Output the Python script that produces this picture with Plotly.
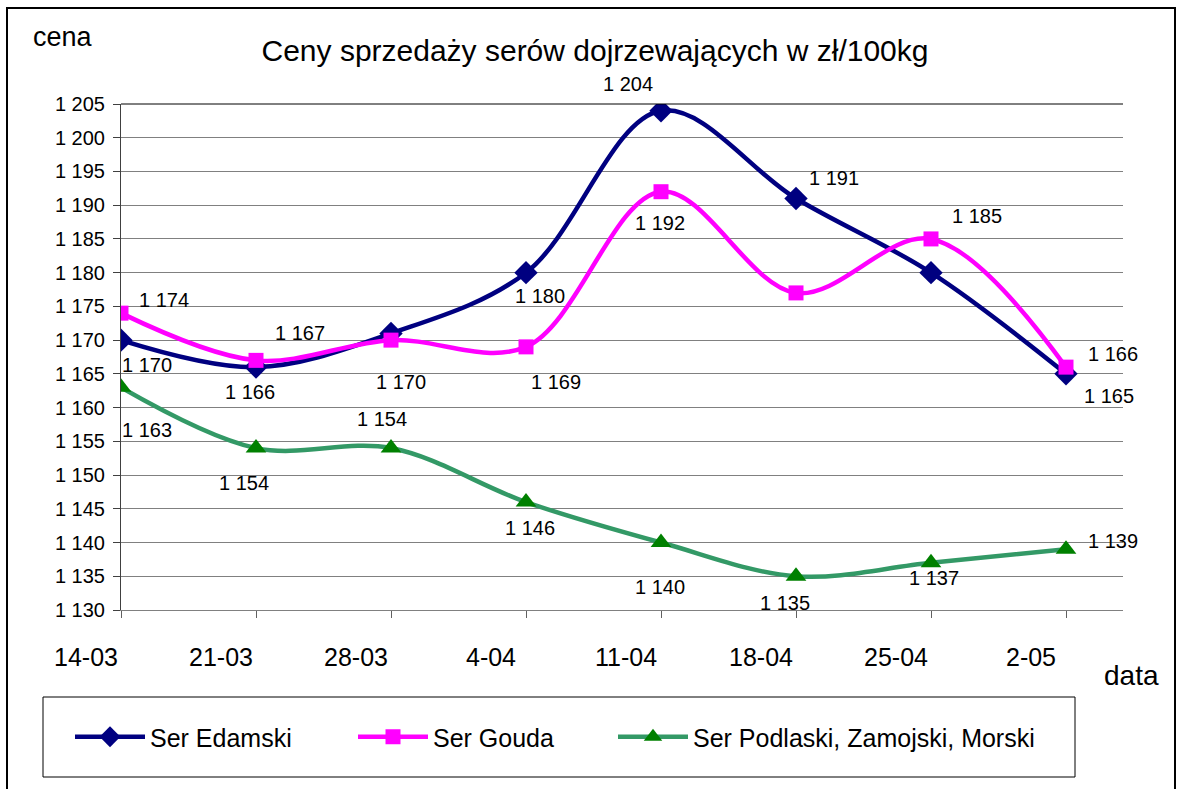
import plotly.graph_objects as go

# ---------------- data ----------------
dates = ["14-03", "21-03", "28-03", "4-04", "11-04", "18-04", "25-04", "2-05"]
edamski = [1170, 1166, 1171, 1180, 1204, 1191, 1180, 1165]
gouda = [1174, 1167, 1170, 1169, 1192, 1177, 1185, 1166]
podlaski = [1163, 1154, 1154, 1146, 1140, 1135, 1137, 1139]
y_ticks = [1130, 1135, 1140, 1145, 1150, 1155, 1160, 1165, 1170, 1175, 1180, 1185, 1190, 1195, 1200, 1205]

names = ["Ser Edamski", "Ser Gouda", "Ser Podlaski, Zamojski, Morski"]
title_text = "Ceny sprzedaży serów dojrzewających w zł/100kg"

# ---------------- style / layout ----------------
W, H = 1179, 789
PL, PR, PT, PB = 121, 1123, 104, 610  # plot area in pixels
FONT = "Liberation Sans, Arial, sans-serif"

def px(xp):
    return (xp - PL) / (PR - PL)

def py(yp):
    return (PB - yp) / (PB - PT)

def fmt(v):
    return f"{v:,}".replace(",", " ")

# label pixel offsets (dx right, dy down) per point, None = no label
lab_off = {
    0: [(26, 25), (-6, 25), None, (14, 23), (-33, -27), (38, -20), None, (43, 22)],
    1: [(43, -13), (44, -27), (10, 42), (30, 35), (-1, 31), None, (46, -23), (47, -13)],
    2: [(26, 43), (-12, 35), (-9, -29), (4, 26), (-1, 44), (-11, 27), (3, 15), (47, -8)],
}

series = [edamski, gouda, podlaski]
line_colors = ["#000080", "#FF00FF", "#339966"]
marker_colors = ["#000080", "#FF00FF", "#008000"]
symbols = ["diamond", "square", "triangle-up"]
msizes = [18, 15, 18]
legend_ids = ["legend", "legend2", "legend3"]
legend_x_px = [70, 353, 613]

fig = go.Figure()
for i, vals in enumerate(series):
    fig.add_trace(go.Scatter(
        x=dates, y=vals, name=names[i], mode="lines+markers",
        line=dict(color=line_colors[i], width=4.5, shape="spline", smoothing=1.0),
        marker=dict(symbol=symbols[i], size=msizes[i], color=marker_colors[i]),
        legend=legend_ids[i], hoverinfo="x+y+name",
    ))

annotations = []
for i, vals in enumerate(series):
    for j, v in enumerate(vals):
        off = lab_off[i][j]
        if off is None:
            continue
        annotations.append(dict(
            x=dates[j], y=v, xref="x", yref="y", text=fmt(v), showarrow=False,
            xshift=off[0], yshift=-off[1], font=dict(family=FONT, size=20, color="#000000"),
        ))

annotations.append(dict(x=px(63), y=py(37), xref="paper", yref="paper", text="cena",
                        showarrow=False, font=dict(family=FONT, size=27, color="#000000"),
                        xanchor="center", yanchor="middle"))
annotations.append(dict(x=px(1131), y=py(675), xref="paper", yref="paper", text="data",
                        showarrow=False, font=dict(family=FONT, size=28, color="#000000"),
                        xanchor="center", yanchor="middle"))

shapes = [
    # outer chart border
    dict(type="rect", xref="paper", yref="paper", x0=px(7), x1=px(1175), y0=py(805), y1=py(8),
         line=dict(color="#000000", width=2), layer="below"),
    # legend box
    dict(type="rect", xref="paper", yref="paper", x0=px(43), x1=px(1075), y0=py(777), y1=py(697),
         line=dict(color="#000000", width=1), layer="below"),
    # top border line of plot area
    dict(type="line", xref="paper", yref="paper", x0=0, x1=1, y0=1, y1=1,
         line=dict(color="#000000", width=1)),
]

legend_common = dict(orientation="h", yanchor="middle", xanchor="left", y=py(737),
                     font=dict(family=FONT, size=25, color="#000000"),
                     bgcolor="rgba(0,0,0,0)", borderwidth=0, itemwidth=70)

fig.update_layout(
    width=W, height=H,
    margin=dict(l=PL, r=W - PR, t=PT, b=H - PB, pad=0),
    paper_bgcolor="#FFFFFF", plot_bgcolor="#FFFFFF",
    font=dict(family=FONT, color="#000000"),
    title=dict(text=title_text, x=595 / W, y=1 - 50 / H, xref="container", yref="container",
               xanchor="center", yanchor="middle", font=dict(family=FONT, size=30, color="#000000")),
    xaxis=dict(type="category", categoryorder="array", categoryarray=dates,
               range=[0, (PR - PL) / 135.0], showgrid=False, zeroline=False,
               showline=True, linecolor="#808080", linewidth=1,
               ticks="outside", ticklen=7, tickcolor="#606060", tickwidth=1,
               tickfont=dict(family=FONT, size=25, color="#000000"),
               ticklabelshift=-35, ticklabelstandoff=18),
    yaxis=dict(range=[1130, 1205], tickmode="array", tickvals=y_ticks,
               ticktext=[fmt(t) for t in y_ticks],
               showgrid=True, gridcolor="#808080", gridwidth=1, zeroline=False,
               showline=True, linecolor="#404040", linewidth=1,
               ticks="outside", ticklen=7, tickcolor="#404040",
               tickfont=dict(family=FONT, size=20, color="#000000"), ticklabelstandoff=4),
    showlegend=True,
    legend=dict(x=px(legend_x_px[0]), **legend_common),
    legend2=dict(x=px(legend_x_px[1]), **legend_common),
    legend3=dict(x=px(legend_x_px[2]), **legend_common),
    annotations=annotations, shapes=shapes,
)

fig.write_html("out.html", config={"displayModeBar": False},
               post_script="document.body.style.margin='0px';")
